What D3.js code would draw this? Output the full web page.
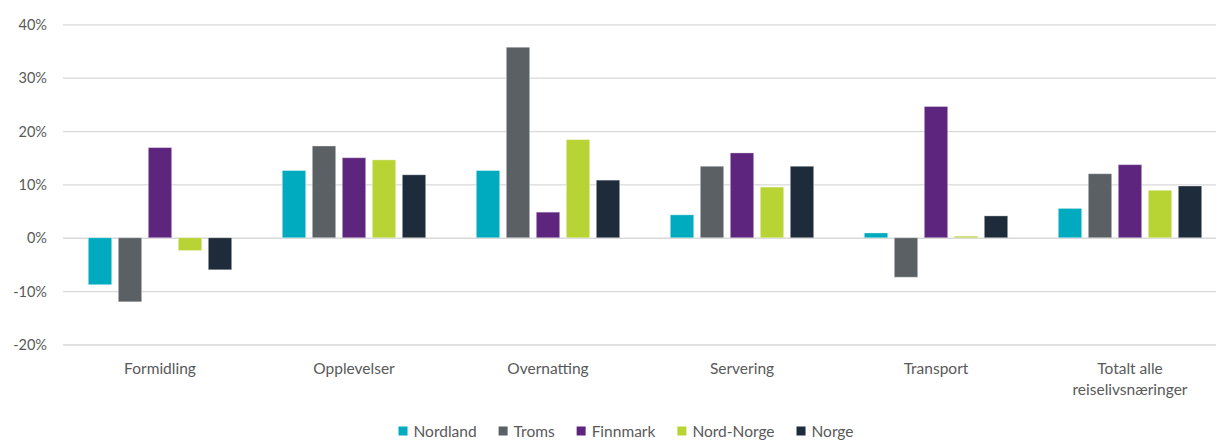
<!DOCTYPE html>
<html>
<head>
<meta charset="utf-8">
<script src="https://cdn.jsdelivr.net/npm/d3@7"></script>
<style>
  html, body { margin: 0; padding: 0; background: #fff; }
  svg { display: block; }
  text { font-family: "Lato", "Open Sans", sans-serif; fill: #595959; }
</style>
</head>
<body>
<svg id="chart" width="1216" height="440"></svg>
<script>
const categories = ["Formidling", "Opplevelser", "Overnatting", "Servering", "Transport", "Totalt alle reiselivsnæringer"];
const categoryLines = [["Formidling"], ["Opplevelser"], ["Overnatting"], ["Servering"], ["Transport"], ["Totalt alle", "reiselivsnæringer"]];
const seriesNames = ["Nordland", "Troms", "Finnmark", "Nord-Norge", "Norge"];
const seriesColors = ["#00ABBF", "#5B6064", "#5E257E", "#B7D334", "#1E2B3A"];
const nordland  = [-8.8, 12.6, 12.6, 4.3, 0.9, 5.5];
const troms     = [-12.0, 17.2, 35.7, 13.4, -7.4, 12.0];
const finnmark  = [16.9, 15.0, 4.8, 15.9, 24.6, 13.7];
const nordNorge = [-2.4, 14.6, 18.4, 9.5, 0.3, 8.9];
const norge     = [-6.0, 11.8, 10.8, 13.4, 4.1, 9.7];
const yTicks = [-20, -10, 0, 10, 20, 30, 40];

const seriesValues = [nordland, troms, finnmark, nordNorge, norge];

const svg = d3.select("#chart");
const plotLeft = 63, plotRight = 1227, plotTop = 24.3, plotBottom = 344.5;

const y = d3.scaleLinear().domain([-20, 40]).range([plotBottom, plotTop]);
const x0 = d3.scaleBand().domain(categories).range([plotLeft, plotRight]).paddingInner(0).paddingOuter(0);
const groupW = 150;
const x1 = d3.scaleBand().domain(seriesNames)
  .range([x0.bandwidth() / 2 - groupW / 2, x0.bandwidth() / 2 + groupW / 2])
  .paddingInner(0.22).paddingOuter(0.11);

// gridlines + y labels
const yAxis = d3.axisLeft(y).tickValues(yTicks).tickSize(-(1216 - plotLeft)).tickFormat(d => d + "%");
const gAxis = svg.append("g").attr("transform", `translate(${plotLeft},0)`).call(yAxis);
gAxis.select(".domain").remove();
gAxis.selectAll(".tick line").attr("stroke", "#d9d9d9").attr("stroke-width", 1.3);
gAxis.selectAll(".tick text").attr("x", -16).attr("dy", "0.35em")
  .style("font-size", "14.5px").attr("fill", "#595959");

// bars
const groups = svg.append("g").selectAll("g").data(categories).join("g")
  .attr("transform", d => `translate(${x0(d)},0)`);
groups.selectAll("rect")
  .data((c, ci) => seriesNames.map((s, si) => ({ s, si, v: seriesValues[si][ci] })))
  .join("rect")
  .attr("x", d => x1(d.s))
  .attr("width", x1.bandwidth())
  .attr("y", d => y(Math.max(0, d.v)))
  .attr("height", d => Math.abs(y(d.v) - y(0)))
  .attr("fill", d => seriesColors[d.si])
  .attr("stroke", "rgba(255,255,255,0.35)")
  .attr("stroke-width", 1);

// category labels
const catG = svg.append("g");
categories.forEach((c, i) => {
  const t = catG.append("text")
    .attr("x", x0(c) + x0.bandwidth() / 2)
    .attr("y", 374)
    .attr("text-anchor", "middle")
    .style("font-size", "15.5px");
  categoryLines[i].forEach((line, li) => {
    t.append("tspan").attr("x", x0(c) + x0.bandwidth() / 2).attr("dy", li === 0 ? 0 : 20.5).text(line);
  });
});

// legend
const legend = svg.append("g");
const itemGap = 22, markerSize = 9, markerGap = 6;
let cx = 0;
const items = [];
seriesNames.forEach((s, i) => {
  const g = legend.append("g");
  g.append("rect").attr("x", 0).attr("y", -markerSize / 2 - 1).attr("width", markerSize).attr("height", markerSize)
    .attr("fill", seriesColors[i]);
  const t = g.append("text").attr("x", markerSize + markerGap).attr("y", 0).attr("dy", "0.35em")
    .style("font-size", "15.5px").text(s);
  const w = markerSize + markerGap + t.node().getComputedTextLength();
  items.push({ g, w });
});
const total = d3.sum(items, d => d.w) + itemGap * (items.length - 1);
cx = 626 - total / 2;
items.forEach(it => {
  it.g.attr("transform", `translate(${cx},432)`);
  cx += it.w + itemGap;
});
</script>
</body>
</html>
